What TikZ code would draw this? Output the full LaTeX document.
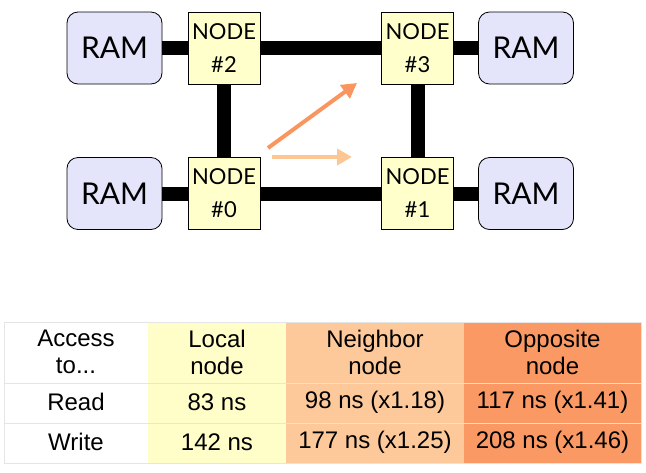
\documentclass[tikz,border=0pt]{standalone}
\usepackage{fontspec}
\setmainfont{Liberation Sans}
\newfontfamily\gillfont{Lato}
\usetikzlibrary{arrows.meta}
\definecolor{ramfill}{HTML}{E4E4FA}
\definecolor{nodefill}{HTML}{FFFFCC}
\definecolor{localfill}{HTML}{FFFDC8}
\definecolor{neighfill}{HTML}{FDC99A}
\definecolor{oppfill}{HTML}{FB9964}
\definecolor{hopfar}{HTML}{F99660}
\definecolor{hopnear}{HTML}{FDC794}
\begin{document}
\begin{tikzpicture}[x = 1pt, y = -1pt,
                        ram/.style = {draw, rounded corners = 11pt, fill = ramfill, line width = 0.8pt,
                                      minimum width = 95pt, minimum height = 72pt,
                                      font = \gillfont\fontsize{30}{30}\selectfont},
                        cpu/.style = {draw, fill = nodefill, line width = 0.8pt, minimum size = 72pt,
                                      inner sep = 0pt, align = center,
                                      font = \gillfont\fontsize{22}{33}\selectfont},
                        link/.style = {line width = 14pt},
                        hop/.style = {line width = 4pt, -{Triangle[length = 15pt, width = 16pt]}},
                        cell/.style = {align = center, font = \fontsize{24}{27}\selectfont}]
      \useasboundingbox (0, 0) rectangle (646, 472);
      % memory and nodes
      \node [ram] (ram2) at (114.5, 48){RAM};
      \node [ram] (ram0) at (114.5, 193.5){RAM};
      \node [ram] (ram3) at (526, 48){RAM};
      \node [ram] (ram1) at (526, 193.5){RAM};
      \node [cpu] (n2) at (224, 48){NODE\\\#2};
      \node [cpu] (n0) at (224, 193.5){NODE\\\#0};
      \node [cpu] (n3) at (417.5, 48){NODE\\\#3};
      \node [cpu] (n1) at (417.5, 193.5){NODE\\\#1};
      \draw [link] (ram2) -- (n2) -- (n3) -- (ram3);
      \draw [link] (ram0) -- (n0) -- (n1) -- (ram1);
      \draw [link] (n2) -- (n0);
      \draw [link] (n3) -- (n1);
      \coordinate (farstart) at (268, 148);
      \coordinate (farend) at (357, 83);
      \coordinate (nearstart) at (272, 157);
      \coordinate (nearend) at (352, 157);
      \draw [hop, hopfar] (farstart) -- (farend);
      \draw [hop, hopnear] (nearstart) -- (nearend);
      % latency table
      \fill [localfill] (148, 322) rectangle (286, 463);
      \fill [neighfill] (286, 322) rectangle (464, 463);
      \fill [oppfill] (464, 322) rectangle (641, 463);
      \draw [black!10, line width = 1pt] (4, 322) rectangle (641, 463);
      \draw [black!10, line width = 1pt] (4, 383) -- (641, 383);
      \draw [black!10, line width = 1pt] (4, 423) -- (641, 423);
      \node [cell] (h1) at (76, 352){Access\\to...};
      \node [cell] (h2) at (217, 352){Local\\node};
      \node [cell] (h3) at (375, 352){Neighbor\\node};
      \node [cell] (h4) at (552.5, 352){Opposite\\node};
      \node [cell] (r1) at (76, 402){Read};
      \node [cell] (r2) at (217, 402){83 ns};
      \node [cell] (r3) at (375, 402){98 ns (x1.18)};
      \node [cell] (r4) at (552.5, 402){117 ns (x1.41)};
      \node [cell] (w1) at (76, 442){Write};
      \node [cell] (w2) at (217, 442){142 ns};
      \node [cell] (w3) at (375, 442){177 ns (x1.25)};
      \node [cell] (w4) at (552.5, 442){208 ns (x1.46)};
    \end{tikzpicture}
\end{document}
